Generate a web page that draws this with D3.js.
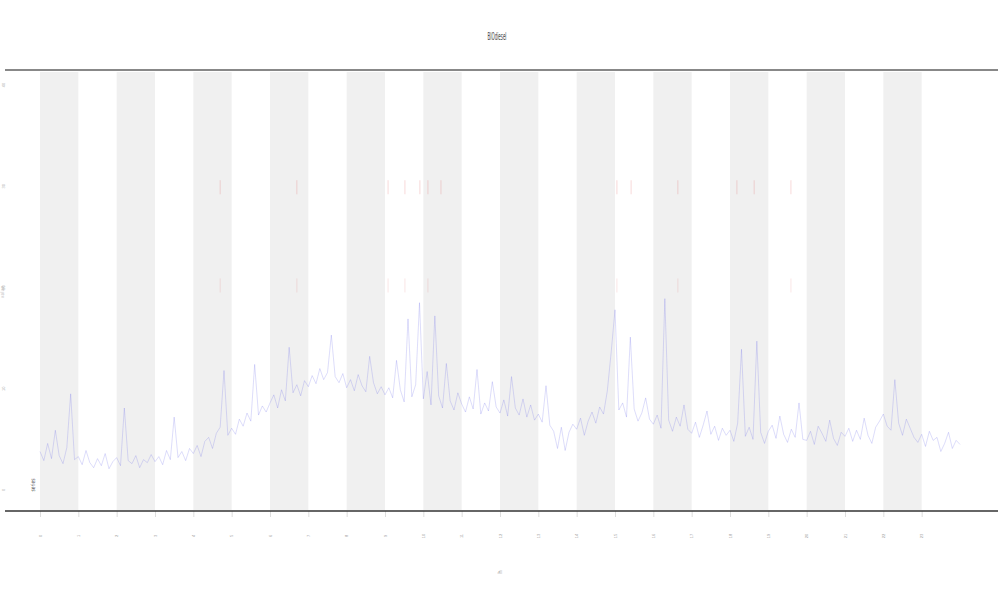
<!DOCTYPE html>
<html>
<head>
<meta charset="utf-8">
<script src="https://cdn.jsdelivr.net/npm/d3@7"></script>
<style>
  body { margin: 0; background: #fff; }
  svg { display: block; font-family: "Liberation Sans Narrow", "DejaVu Sans Condensed", sans-serif; }
</style>
</head>
<body>
<div id="chart"></div>
<script>
// x ticks (hours), y ticks
const xTicks = d3.range(0, 24);
const yTicks = [0, 10, 20, 30, 40];

// blue series, one value every 0.1 x-unit from 0 to 24
const series = [
  3.8, 2.9, 4.6, 3.1, 5.9, 3.4, 2.6, 4.2, 9.5, 3.0,
  3.3, 2.5, 3.9, 2.7, 2.2, 3.1, 2.4, 3.6, 2.1, 2.8,
  3.2, 2.4, 8.1, 2.9, 2.6, 3.4, 2.2, 3.0, 2.7, 3.5,
  2.8, 3.3, 2.5, 3.9, 3.0, 7.2, 3.2, 3.8, 2.9, 4.1,
  3.6, 4.4, 3.3, 4.8, 5.2, 4.1, 5.6, 6.2, 11.8, 5.4,
  6.1, 5.5, 7.0, 6.3, 7.6, 6.8, 12.4, 7.4, 8.3, 7.7,
  8.6, 9.4, 8.1, 9.9, 8.8, 14.1, 9.6, 10.4, 9.3, 10.8,
  10.2, 11.3, 10.5, 12.0, 10.9, 11.6, 15.3, 11.2, 10.6, 11.5,
  10.1, 10.9, 9.8, 11.4, 10.3, 9.7, 13.2, 10.6, 9.5, 10.2,
  9.4, 10.1, 9.1, 12.8, 9.9, 8.7, 16.9, 9.2, 10.4, 18.5,
  9.0, 11.7, 8.4, 17.2, 9.3, 8.1, 12.5, 8.8, 7.9, 9.6,
  8.5, 7.7, 9.2, 8.0, 11.9, 7.5, 8.6, 7.8, 10.7, 8.2,
  7.6, 8.9, 7.3, 11.2, 8.1, 7.4, 9.0, 7.2, 8.4, 6.9,
  7.5, 6.7, 10.3, 6.4, 5.8, 4.1, 6.2, 3.9, 5.7, 6.5,
  6.0, 7.1, 5.4, 6.8, 7.7, 6.6, 8.2, 7.5, 9.8, 13.6,
  17.8, 7.9, 8.6, 7.2, 15.1, 8.0, 6.8, 7.6, 9.1, 7.0,
  6.5, 7.4, 6.1, 18.9, 6.9, 5.8, 7.2, 6.3, 8.4, 6.0,
  5.6, 6.7, 5.2, 6.4, 7.8, 5.5, 6.3, 4.9, 6.1, 5.4,
  5.9, 4.8, 6.6, 13.9, 5.3, 6.2, 5.0, 14.7, 5.7, 4.6,
  5.8, 6.4, 5.1, 7.3, 5.5, 4.7, 6.0, 5.2, 8.6, 5.0,
  4.9, 5.8, 4.5, 6.3, 5.6, 4.8, 6.9, 5.1, 4.4, 5.7,
  5.3, 6.1, 4.8, 5.9, 5.0, 7.1, 5.4, 4.6, 6.2, 6.8,
  7.5, 6.3, 5.9, 10.9, 6.6, 5.4, 7.0, 6.1, 5.2, 4.7,
  5.5, 4.3, 5.8, 4.9, 5.2, 3.8, 4.6, 5.7, 4.1, 4.9,
  4.5
];

// red flags: x position and level
const flagsHigh = [4.70, 6.70, 9.08, 9.52, 9.91, 10.12, 10.46, 15.05, 15.42, 16.64, 18.18, 18.63, 19.59];
const flagsLow = [4.70, 6.70, 9.08, 9.52, 10.12, 15.05, 16.64, 19.59];
const highLevel = 29.9;
const lowLevel = 20.2;

const title = 'BIOdiesel';
const xTitle = 'h';
const yTitle = 'value';
const legendLabel = 'series';

const width = 1000, height = 600;

const svg = d3.select('#chart').append('svg')
  .attr('width', width)
  .attr('height', height);

const x = d3.scaleLinear().domain([0, 24]).range([40, 960]);
const y = d3.scaleLinear().domain([0, 40]).range([490, 85]);

// alternating bands
svg.selectAll('.band')
  .data(xTicks.filter(d => d % 2 === 0))
  .enter().append('rect')
  .attr('x', d => x(d))
  .attr('width', d => x(d + 1) - x(d))
  .attr('y', 72)
  .attr('height', 438)
  .style('fill', '#f0f0f0');

// frame lines
svg.append('line')
  .attr('x1', 5).attr('x2', 998).attr('y1', 70).attr('y2', 70)
  .style('stroke', '#888').style('stroke-width', 2);

// x axis
const xAxis = d3.axisBottom(x).tickValues(xTicks).tickSize(6).tickFormat(d => d);
const gx = svg.append('g')
  .attr('transform', 'translate(0,511)')
  .call(xAxis);
gx.select('.domain').remove();
gx.selectAll('.tick line').style('stroke', '#ddd');
gx.selectAll('.tick text')
  .attr('transform', 'translate(0,25) rotate(-90)')
  .attr('x', 0).attr('y', 0).attr('dy', '0.3em')
  .style('text-anchor', 'middle')
  .style('font-size', '4px')
  .style('fill', '#999');

svg.append('line')
  .attr('x1', 5).attr('x2', 998).attr('y1', 511).attr('y2', 511)
  .style('stroke', '#333').style('stroke-width', 1.5);

// y axis
const yAxis = d3.axisLeft(y).tickValues(yTicks).tickSize(0);
const gy = svg.append('g')
  .attr('transform', 'translate(4,0)')
  .call(yAxis);
gy.select('.domain').remove();
gy.selectAll('.tick').attr('transform', null);
gy.selectAll('.tick text')
  .attr('x', 0).attr('y', 0).attr('dy', '0.3em')
  .attr('transform', d => 'translate(0,' + y(d) + ') rotate(-90)')
  .style('text-anchor', 'middle')
  .style('font-size', '4px')
  .style('fill', '#aaa');

svg.append('text')
  .attr('transform', 'translate(4,292) rotate(-90)')
  .style('text-anchor', 'middle')
  .style('font-size', '5px')
  .style('fill', '#bbb')
  .text(yTitle);

// blue series
const line = d3.line()
  .x((d, i) => x(i * 0.1))
  .y(d => y(d));

svg.append('path')
  .datum(series)
  .attr('d', line)
  .style('fill', 'none')
  .style('stroke', '#5a5ae6')
  .style('stroke-opacity', 0.3)
  .style('stroke-width', 0.7);

// red flags
svg.selectAll('.flagHigh')
  .data(flagsHigh)
  .enter().append('line')
  .attr('x1', d => x(d)).attr('x2', d => x(d))
  .attr('y1', y(highLevel) - 7).attr('y2', y(highLevel) + 7)
  .style('stroke', '#e06060')
  .style('stroke-opacity', 0.3)
  .style('stroke-width', 0.8);

svg.selectAll('.flagLow')
  .data(flagsLow)
  .enter().append('line')
  .attr('x1', d => x(d)).attr('x2', d => x(d))
  .attr('y1', y(lowLevel) - 7).attr('y2', y(lowLevel) + 7)
  .style('stroke', '#e06060')
  .style('stroke-opacity', 0.2)
  .style('stroke-width', 0.8);

// legend label
svg.append('text')
  .attr('transform', 'translate(33,485) rotate(-90)')
  .attr('dy', '0.35em')
  .style('text-anchor', 'middle')
  .style('font-size', '6px')
  .style('fill', '#555')
  .attr('textLength', 13)
  .attr('lengthAdjust', 'spacingAndGlyphs')
  .text(legendLabel);

// title
svg.append('text')
  .attr('x', 497).attr('y', 40)
  .style('text-anchor', 'middle')
  .style('font-size', '10px')
  .style('fill', '#444')
  .attr('textLength', 19)
  .attr('lengthAdjust', 'spacingAndGlyphs')
  .text(title);

// x title
svg.append('text')
  .attr('transform', 'translate(500,572) rotate(-90)')
  .attr('dy', '0.35em')
  .style('text-anchor', 'middle')
  .style('font-size', '6px')
  .style('fill', '#999')
  .text(xTitle);
</script>
</body>
</html>
